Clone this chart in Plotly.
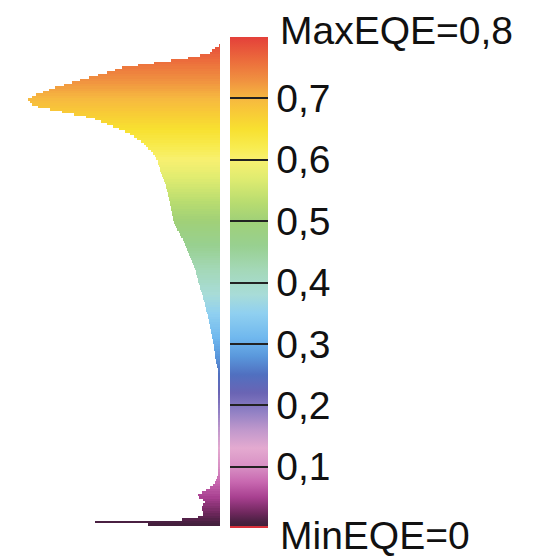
import plotly.graph_objects as go

# EQE histogram (horizontal), bins of width 0.004 from 0 to 0.8
BIN_WIDTH = 0.004
eqe_bin_centers = [round(0.002 + BIN_WIDTH * i, 3) for i in range(200)]

# relative frequency per bin, bottom (EQE=0) to top (EQE=0.8)
counts = [
    0, 72, 125, 38, 22, 17, 17, 18, 18, 17,             # 0.002 - 0.038
    15, 17, 21, 22, 18, 14, 10, 7, 5, 4,                # 0.042 - 0.078
    3, 2, 1.5, 1.5, 2, 1.5, 1.5, 1.5, 1.5, 2,           # 0.082 - 0.118
    1.5, 1.5, 1.5, 1.5, 1.5, 2, 1.5, 1.5, 1.5, 1.5,     # 0.122 - 0.158
    1.5, 1.5, 2, 1.5, 1.5, 1.5, 1.5, 1.5, 2, 1.5,       # 0.162 - 0.198
    1.5, 1.5, 1.5, 1.5, 2, 1.5, 1.5, 1.5, 1.5, 2,       # 0.202 - 0.238
    1.5, 1.5, 2, 2, 2.5, 3, 3.5, 4, 4.5, 5,             # 0.242 - 0.278
    5, 5.5, 6, 6, 6.5, 7, 7, 8, 8.5, 9,                 # 0.282 - 0.318
    9.5, 10, 10.5, 11, 11.5, 12, 12.5, 13, 14, 14.5,    # 0.322 - 0.358
    15, 15.5, 16, 17, 17.5, 18, 19, 20, 20.5, 21,       # 0.362 - 0.398
    22, 22.5, 23, 24, 24.5, 25, 26, 27, 28, 29,         # 0.402 - 0.438
    30, 31, 32, 33, 34, 35, 36, 37.5, 39, 40,           # 0.442 - 0.478
    41.5, 43, 44.5, 45.5, 46.5, 47, 47.5, 48, 48.5, 49, # 0.482 - 0.518
    49.5, 50, 50.5, 51, 51.5, 52, 52.5, 53, 54, 54.5,   # 0.522 - 0.558
    55, 56, 57, 58, 59, 60, 60.5, 61, 62, 62.5,         # 0.562 - 0.598
    64, 65.5, 67.5, 69.5, 72, 74, 76, 79, 83, 86,       # 0.602 - 0.638
    90, 95, 101, 107, 113, 119, 125, 134, 146, 158,     # 0.642 - 0.678
    170, 182, 188, 190, 192, 188.5, 184, 177.5, 171.5, 165,  # 0.682 - 0.718
    156.5, 148, 140, 131.5, 122, 113, 105, 98, 82, 66,  # 0.722 - 0.758
    49, 32, 20, 10, 8, 5, 1, 0, 0, 0,                   # 0.762 - 0.798
]

# colorbar ticks
tick_values = [0.1, 0.2, 0.3, 0.4, 0.5, 0.6, 0.7, 0.8]
tick_labels = ["0,1", "0,2", "0,3", "0,4", "0,5", "0,6", "0,7", ""]
max_label = "MaxEQE=0,8"
min_label = "MinEQE=0"

EQE_MIN, EQE_MAX = 0.0, 0.8
colorscale_stops = [
    (0.000, "#d8303c"), (0.003, "#d8303c"), (0.0035, "#40203a"),
    (0.010, "#4a2042"), (0.025, "#70285e"), (0.050, "#a84090"),
    (0.075, "#c868b0"), (0.100, "#d890c4"), (0.130, "#e4aad0"),
    (0.160, "#c098cc"), (0.190, "#9080c4"), (0.220, "#6a64b4"),
    (0.250, "#5070c0"), (0.280, "#5a98dc"), (0.310, "#70b8ee"),
    (0.350, "#90d0f0"), (0.380, "#a8dcd8"), (0.420, "#a4d8b8"),
    (0.460, "#98d090"), (0.500, "#a0d078"), (0.530, "#b8dc70"),
    (0.570, "#e0ec70"), (0.600, "#f8f070"), (0.620, "#f8ec50"),
    (0.650, "#f8e030"), (0.680, "#f8c838"), (0.700, "#f6b840"),
    (0.730, "#f09040"), (0.760, "#ec6e3c"), (0.800, "#e4403a"),
]
colorscale = [[v / EQE_MAX, c] for v, c in colorscale_stops]

W, H = 541, 558
ML, MR, MT, MB = 20, 321, 37, 30
PW = W - ML - MR
PH = H - MT - MB

FONT = "Liberation Sans, Arial, sans-serif"

fig = go.Figure(
    go.Bar(
        y=eqe_bin_centers,
        x=counts,
        orientation="h",
        width=BIN_WIDTH,
        marker=dict(
            color=eqe_bin_centers,
            colorscale=colorscale,
            cmin=EQE_MIN,
            cmax=EQE_MAX,
            line=dict(width=0),
            showscale=True,
            colorbar=dict(
                x=(230 - ML) / PW,
                xanchor="left",
                xref="paper",
                xpad=0,
                ypad=0,
                y=0.5,
                yanchor="middle",
                len=1,
                lenmode="fraction",
                thickness=38,
                thicknessmode="pixels",
                outlinewidth=0,
                ticks="inside",
                ticklen=38,
                tickwidth=2,
                tickcolor="#222222",
                tickvals=tick_values,
                ticktext=tick_labels,
                tickfont=dict(family=FONT, size=39, color="#111111"),
            ),
        ),
        hoverinfo="skip",
    )
)

fig.add_annotation(
    x=(278 - ML) / PW, y=(H - MB - 30) / PH, xref="paper", yref="paper",
    xanchor="left", yanchor="middle", text=max_label, showarrow=False,
    font=dict(family=FONT, size=39, color="#111111"),
)
fig.add_annotation(
    x=(278 - ML) / PW, y=(H - MB - 535) / PH, xref="paper", yref="paper",
    xanchor="left", yanchor="middle", text=min_label, showarrow=False,
    font=dict(family=FONT, size=39, color="#111111"),
)

fig.update_layout(
    width=W,
    height=H,
    margin=dict(l=ML, r=MR, t=MT, b=MB, pad=0),
    paper_bgcolor="white",
    plot_bgcolor="white",
    bargap=0,
    showlegend=False,
    xaxis=dict(range=[200, 0], visible=False, fixedrange=True),
    yaxis=dict(range=[EQE_MIN, EQE_MAX], visible=False, fixedrange=True),
)

fig.write_html(
    "out.html",
    config={"displayModeBar": False},
    post_script="document.body.style.margin='0';document.body.style.overflow='hidden';",
)
